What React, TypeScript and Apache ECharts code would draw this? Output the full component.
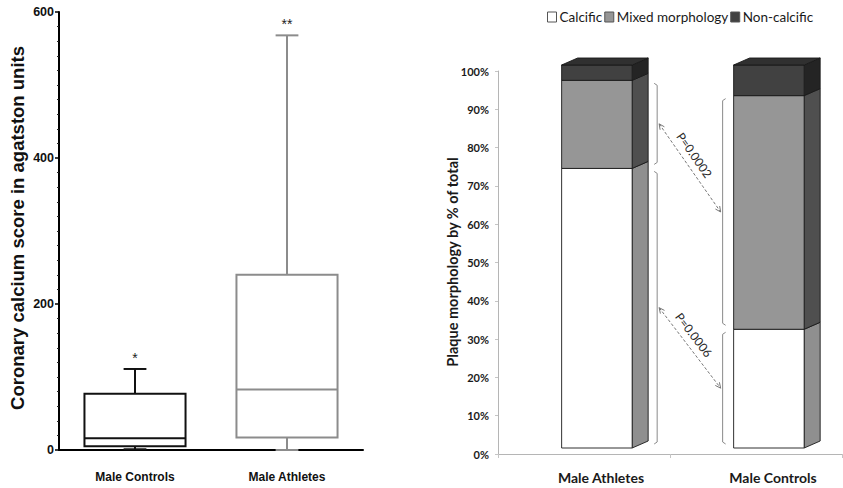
import React, { useEffect, useRef } from 'react';
import * as echarts from 'echarts';

// ---------- Left panel: coronary calcium score box plots ----------
const boxCategories = ['Male Controls', 'Male Athletes'];
const boxMin = [1, 0];
const boxQ1 = [5, 17];
const boxMedian = [16, 83];
const boxQ3 = [77, 240];
const boxMax = [111, 568];
const boxMarks = ['*', '**'];
const boxColors = ['#111111', '#8c8c8c'];
const scoreAxis = { min: 0, max: 600, interval: 200 };
const leftTitle = 'Coronary calcium score in agatston units';

// ---------- Right panel: plaque morphology (% of total) ----------
const morphCategories = ['Male Athletes', 'Male Controls'];
const calcific = [73, 31];
const mixed = [23, 61];
const nonCalcific = [4, 8];
const pctAxis = { min: 0, max: 100, interval: 10 };
const rightTitle = 'Plaque morphology by % of total';
const pLabels = ['P=0.0002', 'P=0.0006'];

const segments = [
  { name: 'Calcific', values: calcific, front: '#ffffff', side: '#8f8f8f', top: '#ffffff' },
  { name: 'Mixed morphology', values: mixed, front: '#969696', side: '#4f4f4f', top: '#969696' },
  { name: 'Non-calcific', values: nonCalcific, front: '#414141', side: '#242424', top: '#303030' },
];

const DX = 16;
const DY = -7;
const SHIFT = -6;

function barGeom(pb: number[], pt: number[], catW: number) {
  const fw = catW * 0.41;
  const cx = pb[0] + catW * 0.075;
  return { x1: cx - fw / 2, x2: cx + fw / 2, yb: pb[1] + SHIFT, yt: pt[1] + SHIFT };
}

export default function App() {
  const ref = useRef<HTMLDivElement>(null);

  useEffect(() => {
    if (!ref.current) return;
    const chart = echarts.init(ref.current, null, { renderer: 'svg' });

    const boxData = boxCategories.map((_, i) => [i, boxMin[i], boxQ1[i], boxMedian[i], boxQ3[i], boxMax[i]]);

    const segSeries = segments.map((seg, si) => {
      const data = morphCategories.map((_, ci) => {
        let base = 0;
        for (let k = 0; k < si; k++) base += segments[k].values[ci];
        return [ci, base, base + seg.values[ci]];
      });
      const isTop = si === segments.length - 1;
      return {
        type: 'custom',
        name: seg.name,
        xAxisIndex: 1,
        yAxisIndex: 1,
        clip: false,
        itemStyle: { color: seg.front, borderColor: '#555', borderWidth: 1 },
        data,
        renderItem: (params: any, api: any) => {
          const i = api.value(0);
          const pb = api.coord([i, api.value(1)]);
          const pt = api.coord([i, api.value(2)]);
          const catW = api.size([1, 0])[0];
          const g = barGeom(pb, pt, catW);
          const stroke = { stroke: '#1a1a1a', lineWidth: 0.9 };
          const children: any[] = [
            {
              type: 'polygon',
              shape: { points: [[g.x2, g.yb], [g.x2 + DX, g.yb + DY], [g.x2 + DX, g.yt + DY], [g.x2, g.yt]] },
              style: { fill: seg.side, ...stroke },
            },
            {
              type: 'rect',
              shape: { x: g.x1, y: g.yt, width: g.x2 - g.x1, height: g.yb - g.yt },
              style: { fill: seg.front, ...stroke },
            },
          ];
          if (isTop) {
            children.push({
              type: 'polygon',
              shape: { points: [[g.x1, g.yt], [g.x1 + DX, g.yt + DY], [g.x2 + DX, g.yt + DY], [g.x2, g.yt]] },
              style: { fill: seg.top, ...stroke },
            });
          }
          return { type: 'group', children };
        },
      };
    });

    const option: any = {
      animation: false,
      backgroundColor: '#ffffff',
      legend: {
        data: segments.map((s) => ({
          name: s.name,
          itemStyle: { color: s.front, borderColor: '#555', borderWidth: 1 },
        })),
        left: 542,
        top: 5,
        icon: 'rect',
        itemWidth: 9,
        itemHeight: 10,
        itemGap: 2,
        selectedMode: false,
        textStyle: { fontFamily: 'Lato', fontSize: 13.5, color: '#1a1a1a', padding: [0, 0, 0, -2] },
      },
      grid: [
        { left: 59, right: 480, top: 12, bottom: 38 },
        { left: 498, right: 1, top: 71, bottom: 34 },
      ],
      xAxis: [
        {
          type: 'category',
          gridIndex: 0,
          data: boxCategories,
          axisLine: { lineStyle: { color: '#000', width: 2 } },
          axisTick: { show: false },
          axisLabel: {
            margin: 21,
            fontFamily: 'Liberation Sans, Arial, sans-serif',
            fontWeight: 'bold',
            fontSize: 12,
            color: '#111',
          },
          splitLine: { show: false },
        },
        {
          type: 'category',
          gridIndex: 1,
          data: morphCategories,
          axisLine: { lineStyle: { color: '#b5b5b5', width: 1 } },
          axisTick: { show: true, length: 4, lineStyle: { color: '#c5c5c5' } },
          axisLabel: {
            margin: 16,
            padding: [0, 0, 0, 34],
            fontFamily: 'Lato',
            fontWeight: 'bold',
            fontSize: 14,
            color: '#1a1a1a',
          },
          splitLine: { show: false },
        },
      ],
      yAxis: [
        {
          type: 'value',
          gridIndex: 0,
          min: scoreAxis.min,
          max: scoreAxis.max,
          interval: scoreAxis.interval,
          axisLine: { show: true, lineStyle: { color: '#000', width: 2 } },
          axisTick: { show: true, length: 4, lineStyle: { color: '#000', width: 1.5 } },
          minorTick: { show: true, splitNumber: 10, length: 2, lineStyle: { color: '#222', width: 1 } },
          axisLabel: {
            margin: 5,
            fontFamily: 'Liberation Sans, Arial, sans-serif',
            fontWeight: 'bold',
            fontSize: 12.5,
            color: '#111',
          },
          splitLine: { show: false },
        },
        {
          type: 'value',
          gridIndex: 1,
          min: pctAxis.min,
          max: pctAxis.max,
          interval: pctAxis.interval,
          axisLine: { show: true, lineStyle: { color: '#b5b5b5', width: 1 } },
          axisTick: { show: true, length: 3, lineStyle: { color: '#c5c5c5' } },
          axisLabel: {
            margin: 9,
            formatter: '{value}%',
            fontFamily: 'Lato',
            fontWeight: 'bold',
            fontSize: 11,
            color: '#1a1a1a',
          },
          splitLine: { show: false },
        },
      ],
      series: [
        {
          type: 'custom',
          name: 'score',
          xAxisIndex: 0,
          yAxisIndex: 0,
          clip: false,
          data: boxData,
          renderItem: (params: any, api: any) => {
            const i = api.value(0);
            const pMin = api.coord([i, api.value(1)]);
            const pQ1 = api.coord([i, api.value(2)]);
            const pMed = api.coord([i, api.value(3)]);
            const pQ3 = api.coord([i, api.value(4)]);
            const pMax = api.coord([i, api.value(5)]);
            const catW = api.size([1, 0])[0];
            const bw = catW * 0.665;
            const cw = catW * 0.15;
            const cx = pMin[0];
            const color = boxColors[i];
            const ls = { stroke: color, lineWidth: 2 };
            return {
              type: 'group',
              children: [
                { type: 'line', shape: { x1: cx, y1: pQ1[1], x2: cx, y2: pMin[1] }, style: ls },
                { type: 'line', shape: { x1: cx - cw / 2, y1: pMin[1], x2: cx + cw / 2, y2: pMin[1] }, style: ls },
                { type: 'line', shape: { x1: cx, y1: pQ3[1], x2: cx, y2: pMax[1] }, style: ls },
                { type: 'line', shape: { x1: cx - cw / 2, y1: pMax[1], x2: cx + cw / 2, y2: pMax[1] }, style: ls },
                {
                  type: 'rect',
                  shape: { x: cx - bw / 2, y: pQ3[1], width: bw, height: pQ1[1] - pQ3[1] },
                  style: { fill: '#fff', ...ls },
                },
                { type: 'line', shape: { x1: cx - bw / 2, y1: pMed[1], x2: cx + bw / 2, y2: pMed[1] }, style: ls },
                {
                  type: 'text',
                  x: cx,
                  y: pMax[1] - 4,
                  style: {
                    text: boxMarks[i],
                    align: 'center',
                    verticalAlign: 'bottom',
                    fontFamily: 'Liberation Sans, Arial, sans-serif',
                    fontSize: 14,
                    fill: '#222',
                  },
                },
              ],
            };
          },
        },
        ...segSeries,
      ],
    };

    chart.setOption(option);

    // ---------- annotations computed from the chart scales ----------
    const px = (c: number, v: number) => chart.convertToPixel({ xAxisIndex: 1, yAxisIndex: 1 } as any, [c, v]) as number[];
    const catW = px(1, 0)[0] - px(0, 0)[0];
    const segBounds = (ci: number, si: number) => {
      let base = 0;
      for (let k = 0; k < si; k++) base += segments[k].values[ci];
      const g = barGeom(px(ci, base), px(ci, base + segments[si].values[ci]), catW);
      return g;
    };
    const bracketColor = '#8a8a8a';
    const graphics: any[] = [];
    const brackets: { x: number; yt: number; yb: number }[][] = [[], []];
    [0, 1].forEach((ci) => {
      [0, 1].forEach((si) => {
        const g = segBounds(ci, si);
        const right = ci === 0;
        const x = right ? g.x2 + DX + 9 : g.x1 - 11;
        const yt = g.yt + 3;
        const yb = g.yb - 4;
        const h = right ? -3 : 3;
        brackets[ci][si] = { x, yt, yb };
        graphics.push({
          type: 'polyline',
          shape: { points: [[x + h, yt], [x, yt + 2], [x, yb - 2], [x + h, yb]] },
          style: { stroke: bracketColor, lineWidth: 1, fill: 'none' },
        });
      });
    });
    // arrows: mixed<->mixed (first label), calcific<->calcific (second label)
    [1, 0].forEach((si, k) => {
      const a = brackets[0][si];
      const b = brackets[1][si];
      const x1 = a.x + 2, y1 = (a.yt + a.yb) / 2;
      const x2 = b.x - 2, y2 = (b.yt + b.yb) / 2;
      const ang = Math.atan2(y2 - y1, x2 - x1);
      const head = (x: number, y: number, dir: number) => {
        const L = 6, s = 0.45;
        return {
          type: 'polyline',
          shape: {
            points: [
              [x + L * Math.cos(dir + s), y + L * Math.sin(dir + s)],
              [x, y],
              [x + L * Math.cos(dir - s), y + L * Math.sin(dir - s)],
            ],
          },
          style: { stroke: '#777', lineWidth: 1, fill: 'none' },
        };
      };
      graphics.push({
        type: 'line',
        shape: { x1, y1, x2, y2 },
        style: { stroke: '#777', lineWidth: 1, lineDash: [3, 2] },
      });
      graphics.push(head(x1, y1, ang));
      graphics.push(head(x2, y2, ang + Math.PI));
      const mx = (x1 + x2) / 2, my = (y1 + y2) / 2;
      const ux = Math.cos(ang), uy = Math.sin(ang);
      const perp = 11, along = -8;
      graphics.push({
        type: 'text',
        x: mx + uy * perp + ux * along,
        y: my - ux * perp + uy * along,
        rotation: -ang,
        style: {
          text: pLabels[k],
          align: 'center',
          verticalAlign: 'middle',
          fontFamily: 'Lato',
          fontSize: 12,
          fill: '#2a2a2a',
        },
      });
    });
    graphics.push({
      type: 'text',
      x: 17,
      y: 228,
      rotation: Math.PI / 2,
      style: {
        text: leftTitle,
        align: 'center',
        verticalAlign: 'middle',
        fontFamily: 'Liberation Sans, Arial, sans-serif',
        fontWeight: 'bold',
        fontSize: 18.5,
        fill: '#111',
      },
    });
    graphics.push({
      type: 'text',
      x: 452,
      y: 262,
      rotation: Math.PI / 2,
      style: {
        text: rightTitle,
        align: 'center',
        verticalAlign: 'middle',
        fontFamily: 'Lato',
        fontWeight: 'bold',
        fontSize: 14.5,
        fill: '#1a1a1a',
      },
    });
    chart.setOption({ graphic: graphics });

    return () => chart.dispose();
  }, []);

  return (
    <div
      ref={ref}
      style={{ position: 'fixed', left: 0, top: 0, width: 843, height: 488, background: '#fff' }}
    />
  );
}
